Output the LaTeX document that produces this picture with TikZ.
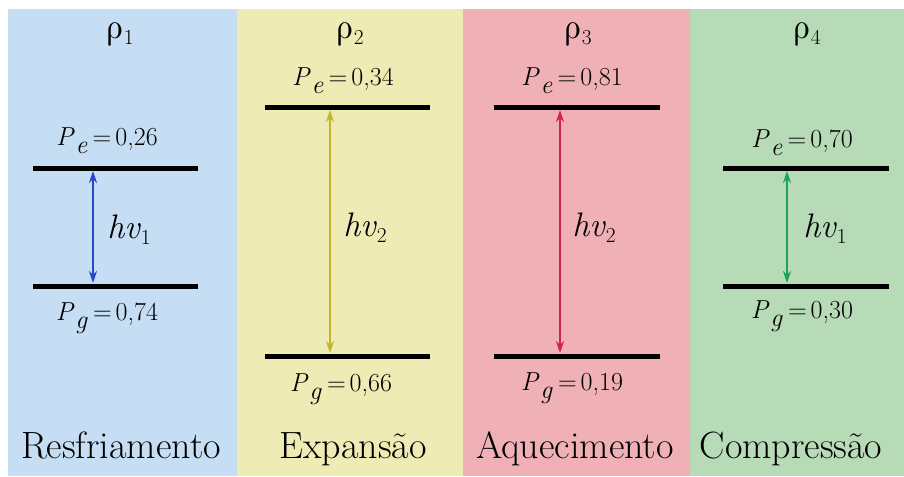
\documentclass[tikz,border=0pt]{standalone}
\usepackage{unicode-math}
\setmathfont{Latin Modern Math}
\usetikzlibrary{arrows.meta}
\definecolor{cblue}{HTML}{C6DEF4}
\definecolor{cyellow}{HTML}{EFEBB5}
\definecolor{cred}{HTML}{EFB1B6}
\definecolor{cgreen}{HTML}{B8DBB7}
\definecolor{ablue}{HTML}{2A46C8}
\definecolor{ayellow}{HTML}{C4B52E}
\definecolor{ared}{HTML}{D2234A}
\definecolor{agreen}{HTML}{1BA457}
\newcommand\plab[2]{\textit{P}\kern0.5pt\raisebox{-6pt}{\textit{#1}}\kern4pt=\kern3pt#2}
\newcommand\hvlab[1]{\textit{hv}\raisebox{-5pt}{\fontsize{16}{18}\selectfont #1}}
\newcommand\rholab[1]{$\symup{\rho}$\raisebox{-5pt}{\fontsize{16}{18}\selectfont #1}}
\begin{document}
\begin{tikzpicture}[x=0.75pt,y=-0.75pt,
  levelline/.style={line width=3.75pt,line cap=butt},
  trans/.style={line width=1.5pt,{Stealth[length=9pt,width=6pt]}-{Stealth[length=9pt,width=6pt]}},
  plabel/.style={anchor=base,inner sep=0pt,font=\fontsize{19.5}{22}\selectfont},
  hvlabel/.style={anchor=base,inner sep=0pt,font=\fontsize{25.5}{28}\selectfont},
  rholabel/.style={anchor=base,inner sep=0pt,font=\fontsize{27}{30}\selectfont},
  phase/.style={anchor=base,inner sep=0pt,font=\fontsize{28.5}{32}\selectfont}]
\useasboundingbox (0,0) rectangle (904,476);
\fill[white] (0,0) rectangle (904,476);
% panels
\fill[cblue] (8,9) rectangle (237,476);
\fill[cyellow] (237,9) rectangle (463,476);
\fill[cred] (463,9) rectangle (690,476);
\fill[cgreen] (690,9) rectangle (904,476);
% rho labels
\node[rholabel] (r1) at (120,38) {\rholab{1}};
\node[rholabel] (r2) at (350,38) {\rholab{2}};
\node[rholabel] (r3) at (578,38) {\rholab{3}};
\node[rholabel] (r4) at (807,38) {\rholab{4}};
% level lines
\coordinate (b1) at (33,168); \coordinate (b2) at (198,168);
\coordinate (b3) at (33,286); \coordinate (b4) at (198,286);
\coordinate (y1) at (265,107); \coordinate (y2) at (430,107);
\coordinate (y3) at (265,356); \coordinate (y4) at (430,356);
\coordinate (d1) at (494,107); \coordinate (d2) at (660,107);
\coordinate (d3) at (494,356); \coordinate (d4) at (660,356);
\coordinate (g1) at (723,168); \coordinate (g2) at (889,168);
\coordinate (g3) at (723,286); \coordinate (g4) at (889,286);
\draw[levelline] (b1) -- (b2); \draw[levelline] (b3) -- (b4);
\draw[levelline] (y1) -- (y2); \draw[levelline] (y3) -- (y4);
\draw[levelline] (d1) -- (d2); \draw[levelline] (d3) -- (d4);
\draw[levelline] (g1) -- (g2); \draw[levelline] (g3) -- (g4);
% arrow ends
\coordinate (bt) at (93,171); \coordinate (bb) at (93,283);
\coordinate (yt) at (330,110); \coordinate (yb) at (330,353);
\coordinate (dt) at (560,110); \coordinate (db) at (560,353);
\coordinate (gt) at (787,171); \coordinate (gb) at (787,283);
\draw[trans,ablue] (bt) -- (bb);
\draw[trans,ayellow] (yt) -- (yb);
\draw[trans,ared] (dt) -- (db);
\draw[trans,agreen] (gt) -- (gb);
% hv labels
\node[hvlabel] (hb) at (129,238) {\hvlab{1}};
\node[hvlabel] (hy) at (365,236) {\hvlab{2}};
\node[hvlabel] (hd) at (594,236) {\hvlab{2}};
\node[hvlabel] (hg) at (825,237) {\hvlab{1}};
% population labels
\node[plabel] (peb) at (107,145) {\plab{e}{0,26}};
\node[plabel] (pgb) at (107,320) {\plab{g}{0,74}};
\node[plabel] (pey) at (343,85) {\plab{e}{0,34}};
\node[plabel] (pgy) at (341,391) {\plab{g}{0,66}};
\node[plabel] (ped) at (572,85) {\plab{e}{0,81}};
\node[plabel] (pgd) at (572,390) {\plab{g}{0,19}};
\node[plabel] (peg) at (802,147) {\plab{e}{0,70}};
\node[plabel] (pgg) at (802,318) {\plab{g}{0,30}};
% phase names
\node[phase] (n1) at (121,458) {Resfriamento};
\node[phase] (n2) at (353,458) {Expansão};
\node[phase] (n3) at (575,458) {Aquecimento};
\node[phase] (n4) at (791,458) {Compressão};
\end{tikzpicture}
\end{document}
